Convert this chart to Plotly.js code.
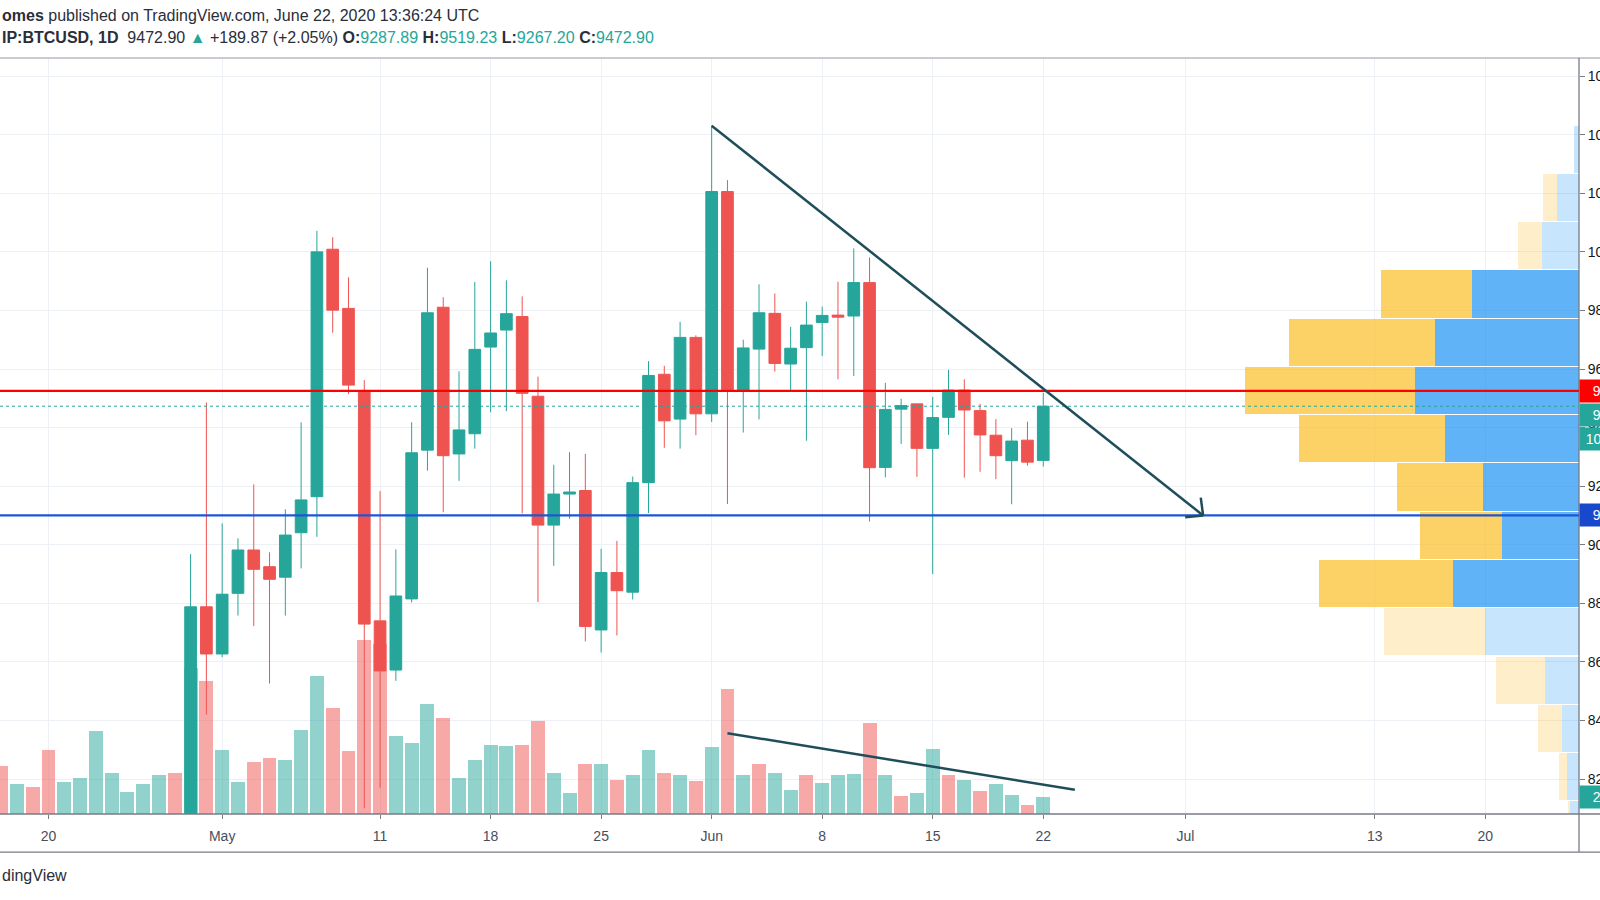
<!DOCTYPE html>
<html><head><meta charset="utf-8">
<script src="https://cdn.plot.ly/plotly-3.0.1.min.js"></script>
<style>
html,body{margin:0;padding:0;overflow:hidden;background:#fff;}
#wrap{width:1600px;height:900px;overflow:hidden;position:relative;}
#chart{width:1660px;height:900px;}
</style></head><body><div id="wrap"><div id="chart"></div></div>
<script>
// ---------- DATA ----------
const candleStart = '2020-04-29';
const opens  = [7760,8788,8627,8834,8982,8925,8889,9041,9164,10009,9807,9526,8740,8572,8815,9323,9811,9310,9379,9675,9733,9779,9507,9067,9173,9185,8709,8905,8838,9212,9582,9429,9708,9447,10206,9526,9668,9790,9617,9673,9759,9784,9781,9895,9264,9463,9481,9329,9435,9528,9458,9374,9287,9357,9287.89];
const highs  = [8968,9486,9073,9022,9206,8974,9121,9418,10072,10050,9913,9562,9183,8984,9418,9946,9845,9592,9897,9968,9903,9848,9574,9273,9316,9310,8986,9013,9233,9627,9611,9761,9715,10431,10245,9700,9889,9858,9744,9830,9813,9898,10012,9981,9553,9498,9481,9505,9597,9565,9481,9429,9398,9420,9519.23];
const lows   = [7736,8420,8616,8758,8722,8526,8758,8919,9027,9724,9514,8100,8170,8535,8803,9253,9111,9218,9328,9452,9456,9107,8804,8928,9089,8670,8632,8690,8813,9108,9331,9328,9374,9419,9139,9383,9428,9591,9523,9355,9644,9565,9576,9079,9230,9344,9232,8900,9375,9229,9249,9224,9138,9270,9267.20];
const closes = [8788,8627,8831,8982,8916,8882,9033,9153,10000,9801,9545,8729,8569,8825,9314,9792,9304,9392,9667,9723,9789,9517,9067,9173,9180,8721,8905,8843,9212,9578,9423,9708,9447,10206,9529,9672,9792,9619,9671,9750,9783,9777,9895,9263,9462,9475,9329,9434,9528,9460,9375,9304,9354,9282,9472.90];

const volumeStart = '2020-04-17';
const volumes = [5.94,3.68,3.34,7.88,3.96,4.42,10.24,5.11,2.76,3.75,4.79,5.11,18.03,16.42,7.88,3.92,6.44,6.97,6.68,10.36,17.08,13.08,7.80,21.53,21.04,9.62,8.82,13.65,11.88,4.42,6.68,8.50,8.42,8.50,11.55,5.11,2.56,6.15,6.23,4.17,4.79,7.92,5.04,4.79,4.08,8.33,15.51,4.86,6.23,5.04,2.93,4.79,3.80,4.86,4.95,11.26,4.86,2.23,2.56,8.08,4.79,4.17,2.85,3.75,2.31,1.15,2.14];
const volumeUp = [0,1,0,0,1,1,1,1,1,1,1,0,1,0,1,1,0,0,1,1,1,0,0,0,0,1,1,1,0,1,1,1,1,0,0,1,1,0,1,0,1,1,0,1,0,1,0,1,0,1,1,0,1,1,1,0,1,0,1,1,0,1,0,1,1,0,1,1,0,0,0,1,0,1];

const profilePrices = [10350.6,10185.8,10021.0,9856.2,9691.4,9526.6,9361.8,9197.0,9032.2,8867.4,8702.6,8537.8,8373.0,8208.2,8043.4];
const profileRowSize = 164.8;
const profileUpVol   = [2.0,8.9,14.8,42.9,57.6,65.6,53.6,38.3,30.9,50.5,37.6,13.5,6.9,4.9,3.6];
const profileDownVol = [0.2,5.4,9.7,36.3,58.4,68.0,58.4,34.6,32.8,53.5,40.4,19.8,9.4,3.0,0.7];
const profileValueArea = [0,0,0,1,1,1,1,1,1,1,0,0,0,0,0];

const xTickVals = ['2020-04-20','2020-05-01','2020-05-11','2020-05-18','2020-05-25','2020-06-01','2020-06-08','2020-06-15','2020-06-22','2020-07-01','2020-07-13','2020-07-20'];
const xTickText = ['20','May','11','18','25','Jun','8','15','22','Jul','13','20'];
const yTickVals = [8200,8400,8600,8800,9000,9200,9400,9600,9800,10000,10200,10400,10600];
const yTickText = ['8200.00','8400.00','8600.00','8800.00','9000.00','9200.00','9400.00','9600.00','9800.00','10000.00','10200.00','10400.00','10600.00'];

const resistanceLevel = 9525.00;
const supportLevel = 9100.00;
const lastPrice = 9472.90;
const countdownText = '10:23:36';
const lastVolumeText = '2.14K';
const priceTrend = {from:['2020-06-01', 10431], to:['2020-07-02 03:00', 9100]};
const volumeTrend = {from:['2020-06-02', 10.0], to:['2020-06-24', 3.0]};

// ---------- HELPERS ----------
function dayList(start, n){
  const t0 = Date.parse(start + 'T00:00:00Z');
  const out = [];
  for (let i = 0; i < n; i++) out.push(new Date(t0 + i*86400000).toISOString().slice(0,10));
  return out;
}
function ms(s){ return Date.parse(s.replace(' ','T') + (s.length===10 ? 'T00:00:00Z' : ':00Z')); }

const candleDates = dayList(candleStart, opens.length);
const volumeDates = dayList(volumeStart, volumes.length);

// ---------- GEOMETRY ----------
const W = 1660, H = 900, ML = 0, MR = 81, MT = 58, MB = 86;
const plotW = W - ML - MR, plotH = H - MT - MB;
const xRange = ['2020-04-16 22:19', '2020-07-25 22:19'];
const priceRange = [8080.5, 10662];
const volumeRange = [0, 93.56];
const profileRange = [631.6, 0];

const UP = '#26a69a', DOWN = '#ef5350';
const volColors = volumes.map((v,i)=> volumeUp[i] ? 'rgba(38,166,154,0.5)' : 'rgba(239,83,80,0.5)');
const profUpColors = profileValueArea.map(a => a ? 'rgba(33,150,243,0.72)' : 'rgba(33,150,243,0.25)');
const profDnColors = profileValueArea.map(a => a ? 'rgba(251,192,45,0.72)' : 'rgba(251,192,45,0.25)');

const traces = [
  {type:'bar', x: volumeDates, y: volumes, xaxis:'x', yaxis:'y',
   marker:{color: volColors, line:{width:0}}, hoverinfo:'skip'},
  {type:'candlestick', x: candleDates, open: opens, high: highs, low: lows, close: closes,
   xaxis:'x', yaxis:'y2', whiskerwidth:0,
   increasing:{line:{color:UP, width:1}, fillcolor:UP},
   decreasing:{line:{color:DOWN, width:1}, fillcolor:DOWN}, hoverinfo:'skip'},
  {type:'bar', orientation:'h', x: profileUpVol, y: profilePrices, width: profileRowSize - 4,
   xaxis:'x2', yaxis:'y2', marker:{color: profUpColors, line:{width:0}}, hoverinfo:'skip'},
  {type:'bar', orientation:'h', x: profileDownVol, y: profilePrices, width: profileRowSize - 4,
   xaxis:'x2', yaxis:'y2', marker:{color: profDnColors, line:{width:0}}, hoverinfo:'skip'}
];

// arrow head for the price trend line
const x0ms = ms(xRange[0]), x1ms = ms(xRange[1]);
const pxPerMs = plotW / (x1ms - x0ms);
const pxPerUsd = plotH / (priceRange[1] - priceRange[0]);
function toPx(d, p){ return [(ms(d) - x0ms)*pxPerMs, -(p - priceRange[0])*pxPerUsd]; }
const sP = toPx(priceTrend.from[0], priceTrend.from[1]);
const tP = toPx(priceTrend.to[0], priceTrend.to[1]);
let dx = tP[0]-sP[0], dy = tP[1]-sP[1]; const dl = Math.hypot(dx,dy); dx/=dl; dy/=dl;
function wing(angleDeg, len){
  const a = angleDeg*Math.PI/180;
  const bx = -dx, by = -dy;
  const rx = bx*Math.cos(a) - by*Math.sin(a), ry = bx*Math.sin(a) + by*Math.cos(a);
  const ex = tP[0] + rx*len, ey = tP[1] + ry*len;
  return [x0ms + ex/pxPerMs, priceRange[0] - ey/pxPerUsd];
}
const w1 = wing(44, 18), w2 = wing(-44, 18);
const trendColor = '#1f4e5a';

const shapes = [
  {type:'line', xref:'paper', yref:'paper', x0:-0.01, x1:1.1, y0:1, y1:1, line:{color:'#9598a1', width:1}},
  {type:'line', xref:'paper', yref:'paper', x0:-0.01, x1:1.1, y0:0, y1:0, line:{color:'#787b86', width:1.3}},
  {type:'line', xref:'paper', yref:'paper', x0:-0.01, x1:1.1, y0:-0.0503, y1:-0.0503, line:{color:'#787b86', width:1.3}},
  {type:'line', xref:'paper', yref:'paper', x0:1, x1:1, y0:-0.0503, y1:1, line:{color:'#787b86', width:1.3}},
  {type:'line', xref:'paper', yref:'y2', x0:0, x1:1, y0:resistanceLevel, y1:resistanceLevel, line:{color:'#ff0000', width:2.2}},
  {type:'line', xref:'paper', yref:'y2', x0:0, x1:1, y0:supportLevel, y1:supportLevel, line:{color:'#1c56d6', width:2.2}},
  {type:'line', xref:'paper', yref:'y2', x0:0, x1:1, y0:lastPrice, y1:lastPrice, line:{color:UP, width:1, dash:'dot'}},
  {type:'line', xref:'x', yref:'y2', x0:priceTrend.from[0], y0:priceTrend.from[1], x1:priceTrend.to[0], y1:priceTrend.to[1], line:{color:trendColor, width:2.5}},
  {type:'line', xref:'x', yref:'y2', x0:priceTrend.to[0], y0:priceTrend.to[1], x1:w1[0], y1:w1[1], line:{color:trendColor, width:2.5}},
  {type:'line', xref:'x', yref:'y2', x0:priceTrend.to[0], y0:priceTrend.to[1], x1:w2[0], y1:w2[1], line:{color:trendColor, width:2.5}},
  {type:'line', xref:'x', yref:'y', x0:volumeTrend.from[0], y0:volumeTrend.from[1], x1:volumeTrend.to[0], y1:volumeTrend.to[1], line:{color:trendColor, width:2.5}}
];

const TXT = '#2a2e39';
const T = '#26a69a';
const labelFont = {family:'Liberation Sans, Arial', size:14, color:'#ffffff'};
function axisLabel(yref, y, text, bg, shift, lead){
  return {xref:'paper', x:1, xanchor:'left', yref:yref, y:y, yanchor:'middle', yshift:shift||0, showarrow:false,
    text:(lead===undefined ? '\u2002\u2009' : lead)+text+'\u2002', bgcolor:bg, borderpad:3, font:labelFont};
}
const annotations = [
  {xref:'paper', yref:'paper', x:0, y:1.0565, xanchor:'left', yanchor:'middle', showarrow:false,
   text:'<b>omes</b> published on TradingView.com, June 22, 2020 13:36:24 UTC',
   font:{family:'Liberation Sans, Arial', size:16, color:TXT}},
  {xref:'paper', yref:'paper', x:0, y:1.0267, xanchor:'left', yanchor:'middle', showarrow:false,
   text:'<b>IP:BTCUSD, 1D</b>  9472.90 <span style="color:'+T+'">▲</span> +189.87 (+2.05%) <b>O:</b><span style="color:'+T+'">9287.89</span> <b>H:</b><span style="color:'+T+'">9519.23</span> <b>L:</b><span style="color:'+T+'">9267.20</span> <b>C:</b><span style="color:'+T+'">9472.90</span>',
   font:{family:'Liberation Sans, Arial', size:16, color:TXT}},
  {xref:'paper', yref:'paper', x:0, y:-0.0813, xanchor:'left', yanchor:'middle', showarrow:false,
   text:'dingView', font:{family:'Liberation Sans, Arial', size:16, color:TXT}},
  axisLabel('y2', resistanceLevel, '9525.00', '#ff0000', 0),
  axisLabel('y2', resistanceLevel, '9472.90', T, -24),
  axisLabel('y2', resistanceLevel, countdownText, T, -48, '\u2009'),
  axisLabel('y2', supportLevel, '9100.00', '#1848cc', 0),
  axisLabel('y', volumes[volumes.length-1], lastVolumeText, T, 0)
];

const gridColor = '#edf1f6';
const layout = {
  width:W, height:H, margin:{l:ML, r:MR, t:MT, b:MB},
  paper_bgcolor:'#ffffff', plot_bgcolor:'#ffffff',
  showlegend:false, hovermode:false, dragmode:false,
  barmode:'stack', bargap:0.12, boxgap:0.26, boxgroupgap:0,
  xaxis:{type:'date', range:xRange, tickvals:xTickVals, ticktext:xTickText, showgrid:true, gridcolor:gridColor, gridwidth:1,
    ticks:'outside', ticklen:4, tickcolor:'#787b86', showline:false, zeroline:false, ticklabelstandoff:5,
    tickfont:{family:'Liberation Sans, Arial', size:14, color:'#4a4e5a'}, rangeslider:{visible:false}, fixedrange:true},
  xaxis2:{overlaying:'x', range:profileRange, visible:false, fixedrange:true},
  yaxis:{range:volumeRange, visible:false, showgrid:false, fixedrange:true},
  yaxis2:{overlaying:'y', side:'right', anchor:'x', range:priceRange, tickvals:yTickVals, ticktext:yTickText, showgrid:true, gridcolor:gridColor, gridwidth:1,
    ticks:'outside', ticklen:5, tickcolor:'#787b86', zeroline:false, showline:false,
    tickfont:{family:'Liberation Sans, Arial', size:14, color:'#131722'}, fixedrange:true},
  shapes:shapes, annotations:annotations
};

Plotly.newPlot('chart', traces, layout, {staticPlot:true, displayModeBar:false});
</script></body></html>
